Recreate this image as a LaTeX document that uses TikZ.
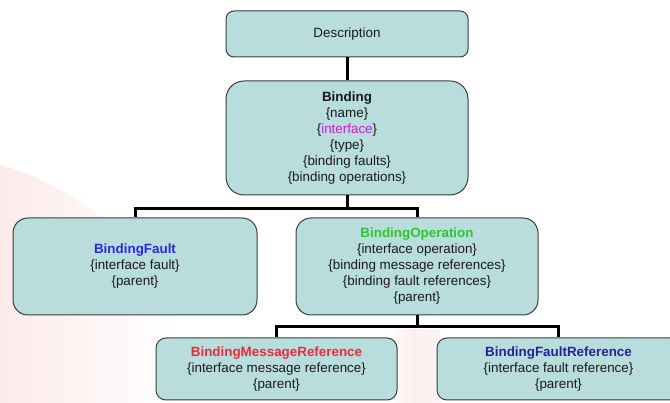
\documentclass[tikz,border=0pt]{standalone}
\usepackage{fontspec}
\setmainfont{Liberation Sans}
\usetikzlibrary{calc}
\definecolor{boxfill}{RGB}{185,221,221}
\definecolor{boxline}{RGB}{60,60,60}
\definecolor{txt}{RGB}{25,25,25}
\definecolor{cfault}{RGB}{40,40,225}
\definecolor{coper}{RGB}{50,195,50}
\definecolor{cmsg}{RGB}{240,40,55}
\definecolor{cfref}{RGB}{35,35,150}
\definecolor{cintf}{RGB}{200,30,200}
\definecolor{wmark}{RGB}{252,235,235}
\tikzset{
  entity/.style={draw=boxline, line width=1pt, fill=boxfill, align=center,
    inner sep=0pt, text=txt, font=\fontsize{13.4}{16}\selectfont},
  conn/.style={line width=3pt, line join=miter, black},
}
\begin{document}
\begin{tikzpicture}[x=1pt, y=-1pt]
  \useasboundingbox (0,0) rectangle (670,403);
  \clip (0,0) rectangle (670,403);
  \fill[white] (0,0) rectangle (670,403);
  % faint background swooshes
  \shade[left color=wmark, right color=white]
    (0,165) .. controls (60,180) and (130,230) .. (180,300) -- (180,403) -- (0,403) -- cycle;
  \shade[left color=white, right color=wmark!60, middle color=wmark!80]
    (385,330) -- (440,330) -- (440,403) -- (385,403) -- cycle;

  % entities
  \node[entity, minimum width=242pt, minimum height=46pt, rounded corners=8pt]
    (desc) at (347,34) {Description};
  \node[entity, minimum width=242pt, minimum height=114pt, rounded corners=18pt]
    (bind) at (347,138) {\textbf{Binding}\\\{name\}\\\{\textcolor{cintf}{interface}\}\\\{type\}\\\{binding faults\}\\\{binding operations\}};
  \node[entity, minimum width=244pt, minimum height=97pt, rounded corners=15pt]
    (bf) at (135,266.5) {\textcolor{cfault}{\textbf{BindingFault}}\\\{interface fault\}\\\{parent\}};
  \node[entity, minimum width=242pt, minimum height=97pt, rounded corners=15pt]
    (bo) at (417,266.5) {\textcolor{coper}{\textbf{BindingOperation}}\\\{interface operation\}\\\{binding message references\}\\\{binding fault references\}\\\{parent\}};
  \node[entity, minimum width=241pt, minimum height=62pt, rounded corners=10pt]
    (bmr) at (276.5,369) {\textcolor{cmsg}{\textbf{BindingMessageReference}}\\\{interface message reference\}\\\{parent\}};
  \node[entity, minimum width=243pt, minimum height=62pt, rounded corners=10pt]
    (bfr) at (558.5,369) {\textcolor{cfref}{\textbf{BindingFaultReference}}\\\{interface fault reference\}\\\{parent\}};

  % connectors
  \draw[conn] (desc.south) -- (bind.north);
  \coordinate (j1) at ($(bind.south)+(0,13)$);
  \draw[conn] (bind.south) -- (j1);
  \draw[conn] (bf.north) |- (j1) -| (bo.north);
  \coordinate (j2) at ($(bo.south)+(0,11.5)$);
  \draw[conn] (bo.south) -- (j2);
  \draw[conn] (bmr.north) |- (j2) -| (bfr.north);
\end{tikzpicture}
\end{document}
